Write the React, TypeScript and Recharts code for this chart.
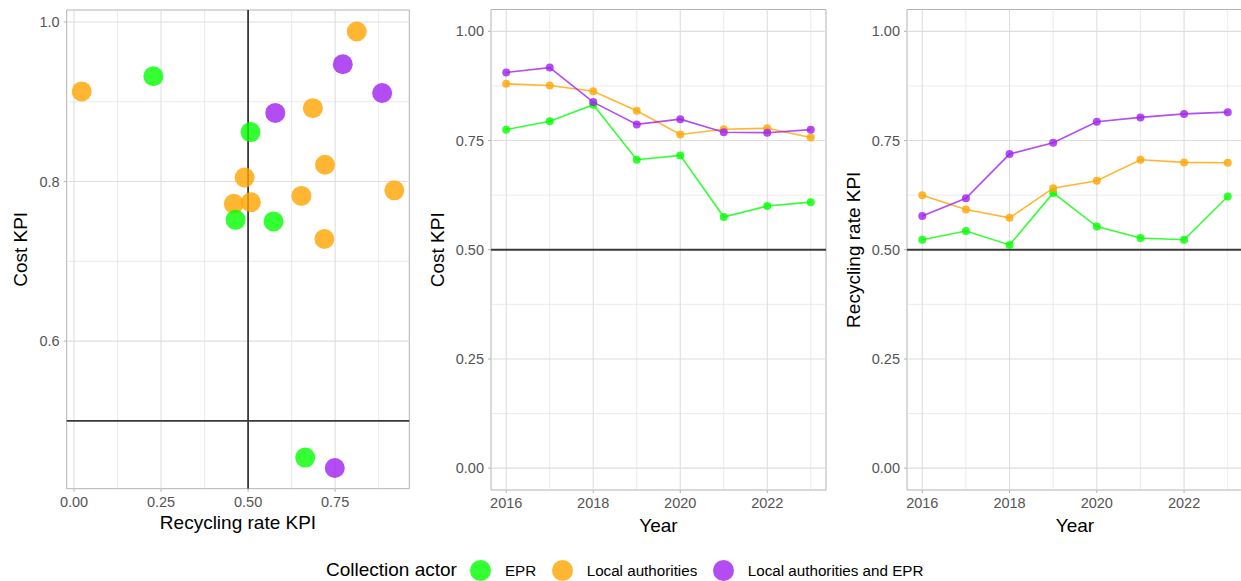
import React from 'react';
import {
  ScatterChart,
  Scatter,
  LineChart,
  Line,
  XAxis,
  YAxis,
  ReferenceLine,
  ReferenceArea,
} from 'recharts';

// Collection actor groups
const actors = ['EPR', 'Local authorities', 'Local authorities and EPR'];
const actorColors = ['#00FF00', '#FFA500', '#A020F0'];

// Scatter: recycling rate KPI (x) vs cost KPI (y)
const eprRecycling = [0.228, 0.507, 0.464, 0.573, 0.664];
const eprCost = [0.932, 0.862, 0.752, 0.75, 0.454];
const laRecycling = [0.022, 0.812, 0.686, 0.721, 0.49, 0.92, 0.653, 0.459, 0.508, 0.719];
const laCost = [0.913, 0.988, 0.892, 0.821, 0.805, 0.789, 0.782, 0.772, 0.774, 0.728];
const laEprRecycling = [0.772, 0.885, 0.578, 0.749];
const laEprCost = [0.947, 0.911, 0.886, 0.441];

// Yearly KPI series
const years = [2016, 2017, 2018, 2019, 2020, 2021, 2022, 2023];
const costEpr = [0.775, 0.794, 0.832, 0.706, 0.716, 0.575, 0.6, 0.609];
const costLa = [0.88, 0.876, 0.863, 0.818, 0.764, 0.776, 0.778, 0.757];
const costLaEpr = [0.906, 0.917, 0.838, 0.787, 0.799, 0.769, 0.768, 0.775];
const recEpr = [0.523, 0.543, 0.511, 0.63, 0.553, 0.527, 0.523, 0.622];
const recLa = [0.625, 0.592, 0.573, 0.641, 0.658, 0.706, 0.7, 0.699];
const recLaEpr = [0.577, 0.618, 0.719, 0.745, 0.793, 0.803, 0.811, 0.815];

// Axis breaks
const scatterXTicks = [0, 0.25, 0.5, 0.75];
const scatterXMinor = [0.125, 0.375, 0.625, 0.875];
const scatterYTicks = [0.6, 0.8, 1.0];
const scatterYMinor = [0.5, 0.7, 0.9];
const yearTicks = [2016, 2018, 2020, 2022];
const yearMinor = [2017, 2019, 2021, 2023];
const kpiTicks = [0, 0.25, 0.5, 0.75, 1.0];
const kpiMinor = [0.125, 0.375, 0.625, 0.875];

const scatterXDomain = [-0.021, 0.963];
const scatterYDomain = [0.415, 1.015];
const yearDomain = [2015.65, 2023.35];
const kpiDomain = [-0.05, 1.05];

const FONT = '"Liberation Sans", Arial, Helvetica, sans-serif';
const GRID = '#DEDEDE';
const BORDER = '#B3B3B3';
const REF = '#3A3A3A';
const TITLE_SIZE = 19;
const tickStyle = { fill: '#555555', fontSize: 14.5, fontFamily: FONT };

const zip = (xs: number[], ys: number[]) => xs.map((x, i) => ({ x, y: ys[i] }));

const scatterSets = [
  zip(eprRecycling, eprCost),
  zip(laRecycling, laCost),
  zip(laEprRecycling, laEprCost),
];

const costRows = years.map((year, i) => ({ year, a: costEpr[i], b: costLa[i], c: costLaEpr[i] }));
const recRows = years.map((year, i) => ({ year, a: recEpr[i], b: recLa[i], c: recLaEpr[i] }));

const VTitle = (props: any) => {
  const { viewBox, text, inset } = props;
  if (!viewBox) return null;
  const x = viewBox.x + inset;
  const y = viewBox.y + viewBox.height / 2;
  return (
    <text
      x={x}
      y={y}
      transform={`rotate(-90, ${x}, ${y})`}
      textAnchor="middle"
      dominantBaseline="central"
      fill="#000"
      fontSize={TITLE_SIZE}
      fontFamily={FONT}
    >
      {text}
    </text>
  );
};

const HTitle = (props: any) => {
  const { viewBox, text, drop } = props;
  if (!viewBox) return null;
  const x = viewBox.x + viewBox.width / 2;
  return (
    <text
      x={x}
      y={viewBox.y + drop}
      textAnchor="middle"
      dominantBaseline="central"
      fill="#000"
      fontSize={TITLE_SIZE}
      fontFamily={FONT}
    >
      {text}
    </text>
  );
};

const dotShape = (color: string) => (p: any) => (
  <circle cx={p.cx} cy={p.cy} r={10} fill={color} fillOpacity={0.8} />
);

const gridLines = (xs: number[], ys: number[], w: number) => [
  ...xs.map((v) => <ReferenceLine key={`gx${v}-${w}`} x={v} stroke={GRID} strokeWidth={w} />),
  ...ys.map((v) => <ReferenceLine key={`gy${v}-${w}`} y={v} stroke={GRID} strokeWidth={w} />),
];

const KpiPanel = ({ rows, title, left, width, rightMargin }: any) => (
  <div style={{ position: 'absolute', left, top: 0 }}>
    <LineChart
      width={width}
      height={540}
      data={rows}
      margin={{ top: 9.5, right: rightMargin, bottom: 0, left: 0 }}
    >
      <XAxis
        type="number"
        dataKey="year"
        domain={yearDomain}
        allowDataOverflow
        ticks={yearTicks}
        axisLine={false}
        tickSize={3}
        tickMargin={5}
        tickLine={{ stroke: BORDER }}
        tick={tickStyle}
        height={50}
        label={<HTitle text="Year" drop={35} />}
      />
      <YAxis
        type="number"
        domain={kpiDomain}
        allowDataOverflow
        ticks={kpiTicks}
        tickFormatter={(v: number) => v.toFixed(2)}
        axisLine={false}
        tickSize={3}
        tickMargin={4}
        tickLine={{ stroke: BORDER }}
        tick={tickStyle}
        width={71}
        label={<VTitle text={title} inset={17} />}
      />
      {gridLines(yearMinor, kpiMinor, 0.6)}
      {gridLines(yearTicks, kpiTicks, 1.1)}
      <ReferenceLine y={0.5} stroke={REF} strokeWidth={1.8} />
      <ReferenceArea
        x1={yearDomain[0]}
        x2={yearDomain[1]}
        y1={kpiDomain[0]}
        y2={kpiDomain[1]}
        fill="none"
        stroke={BORDER}
        strokeWidth={1}
        ifOverflow="visible"
      />
      {['a', 'b', 'c'].map((k, i) => (
        <Line
          key={k}
          dataKey={k}
          name={actors[i]}
          stroke={actorColors[i]}
          strokeOpacity={0.8}
          strokeWidth={1.6}
          dot={{ r: 4, fill: actorColors[i], fillOpacity: 0.8, stroke: 'none' }}
          isAnimationActive={false}
        />
      ))}
    </LineChart>
  </div>
);

const Legend = () => (
  <div
    style={{
      position: 'absolute',
      left: 326,
      top: 559,
      height: 22,
      display: 'flex',
      alignItems: 'center',
      fontFamily: FONT,
      whiteSpace: 'nowrap',
    }}
  >
    <span style={{ fontSize: TITLE_SIZE, marginRight: 13 }}>Collection actor</span>
    {actors.map((a, i) => (
      <React.Fragment key={a}>
        <span
          style={{
            width: 21,
            height: 21,
            borderRadius: '50%',
            background: actorColors[i],
            opacity: 0.8,
            display: 'inline-block',
            marginRight: 14,
          }}
        />
        <span style={{ fontSize: 15.2, marginRight: 15.5 }}>{a}</span>
      </React.Fragment>
    ))}
  </div>
);

export default function App() {
  return (
    <div
      style={{
        position: 'absolute',
        left: 0,
        top: 0,
        width: 1241,
        height: 581,
        overflow: 'hidden',
        background: '#fff',
        fontFamily: FONT,
      }}
    >
      <div style={{ position: 'absolute', left: 0, top: 0 }}>
        <ScatterChart width={420} height={540} margin={{ top: 10, right: 10.7, bottom: 0, left: 0 }}>
          <XAxis
            type="number"
            dataKey="x"
            domain={scatterXDomain}
            allowDataOverflow
            ticks={scatterXTicks}
            tickFormatter={(v: number) => v.toFixed(2)}
            axisLine={false}
            tickSize={3}
            tickMargin={5}
            tickLine={{ stroke: BORDER }}
            tick={tickStyle}
            height={51.3}
            label={<HTitle text="Recycling rate KPI" drop={34} />}
          />
          <YAxis
            type="number"
            dataKey="y"
            domain={scatterYDomain}
            allowDataOverflow
            ticks={scatterYTicks}
            tickFormatter={(v: number) => v.toFixed(1)}
            axisLine={false}
            tickSize={3}
            tickMargin={4}
            tickLine={{ stroke: BORDER }}
            tick={tickStyle}
            width={66.7}
            label={<VTitle text="Cost KPI" inset={21} />}
          />
          {gridLines(scatterXMinor, scatterYMinor, 0.6)}
          {gridLines(scatterXTicks, scatterYTicks, 1.1)}
          <ReferenceLine x={0.5} stroke={REF} strokeWidth={1.8} />
          <ReferenceLine y={0.5} stroke={REF} strokeWidth={1.8} />
          <ReferenceArea
            x1={scatterXDomain[0]}
            x2={scatterXDomain[1]}
            y1={scatterYDomain[0]}
            y2={scatterYDomain[1]}
            fill="none"
            stroke={BORDER}
            strokeWidth={1}
            ifOverflow="visible"
          />
          <Scatter name={actors[1]} data={scatterSets[1]} shape={dotShape(actorColors[1])} isAnimationActive={false} />
          <Scatter name={actors[0]} data={scatterSets[0]} shape={dotShape(actorColors[0])} isAnimationActive={false} />
          <Scatter name={actors[2]} data={scatterSets[2]} shape={dotShape(actorColors[2])} isAnimationActive={false} />
        </ScatterChart>
      </div>
      <KpiPanel rows={costRows} title="Cost KPI" left={420} width={420} rightMargin={14} />
      <KpiPanel rows={recRows} title="Recycling rate KPI" left={836} width={407} rightMargin={0} />
      <Legend />
    </div>
  );
}
